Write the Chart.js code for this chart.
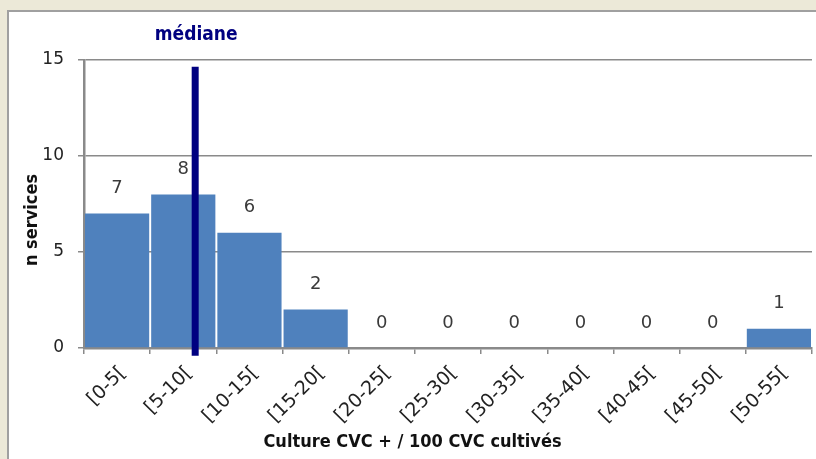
<!DOCTYPE html>
<html><head><meta charset="utf-8">
<script src="https://cdn.jsdelivr.net/npm/chart.js@4/dist/chart.umd.min.js"></script>
<style>
html,body{margin:0;padding:0;background:#ece9d8;width:816px;height:459px;overflow:hidden;}
#panel{position:absolute;left:7px;top:10px;width:807px;height:447px;background:#fff;border-left:2px solid #a0a0a0;border-top:2px solid #a0a0a0;}
canvas{display:block;}
</style></head><body>
<div id="panel"><canvas id="c" width="807" height="447"></canvas></div>
<script>
const categories = ['[0-5[','[5-10[','[10-15[','[15-20[','[20-25[','[25-30[','[30-35[','[35-40[','[40-45[','[45-50[','[50-55['];
const counts = [7,8,6,2,0,0,0,0,0,0,1];
const binWidth = 5;
const medianValue = 8.4;
const medianTop = 14.65;
const medianBottom = -0.4;
const yTicks = [0,5,10,15];
const xTitle = 'Culture CVC + / 100 CVC cultivés';
const yTitle = 'n services';

const FONT = "'DejaVu Sans Condensed','DejaVu Sans',sans-serif";
const FONT_W = "'DejaVu Sans',sans-serif";

const overlay = {
  id:'overlay',
  afterDatasetsDraw(chart){
    const ctx = chart.ctx;
    const meta = chart.getDatasetMeta(0);
    const xs = chart.scales.x, ys = chart.scales.y;
    const ca = chart.chartArea;
    ctx.save();
    ctx.font = "18px " + FONT_W;
    ctx.fillStyle = '#3a3a3a';
    ctx.textAlign = 'center';
    ctx.textBaseline = 'middle';
    meta.data.forEach((bar,i)=>{
      ctx.fillText(String(counts[i]), bar.x, bar.y - 25);
    });
    // median line (value mapped onto the category index scale)
    const px = xs.getPixelForValue(medianValue / binWidth - 0.5);
    ctx.strokeStyle = '#000080';
    ctx.lineWidth = 7;
    ctx.beginPath();
    ctx.moveTo(px, ys.getPixelForValue(medianTop));
    ctx.lineTo(px, ys.getPixelForValue(medianBottom));
    ctx.stroke();
    ctx.font = "bold 19px " + FONT;
    ctx.fillStyle = '#000080';
    ctx.fillText('médiane', px + 1, ca.top - 25);
    // axis titles
    ctx.fillStyle = '#111';
    ctx.font = "bold 18px " + FONT;
    ctx.fillText(xTitle, chart.width / 2, chart.height - 17);
    ctx.translate(23, (ca.top + ca.bottom) / 2 + 16);
    ctx.rotate(-Math.PI / 2);
    ctx.fillText(yTitle, 0, 0);
    ctx.restore();
  }
};

new Chart(document.getElementById('c'), {
  type:'bar',
  data:{
    labels:categories,
    datasets:[
      {data:counts, backgroundColor:'#4f81bd', categoryPercentage:1, barPercentage:0.97}
    ]
  },
  options:{
    responsive:false,
    animation:false,
    events:[],
    layout:{padding:{top:48,right:4,left:0,bottom:0}},
    plugins:{legend:{display:false},tooltip:{enabled:false}},
    scales:{
      x:{
        afterFit(s){ s.height = 111; },
        grid:{offset:true, drawOnChartArea:false, drawTicks:true, tickLength:6, color:'#8a8a8a', lineWidth:1.5},
        border:{color:'#8a8a8a', width:2.5},
        ticks:{minRotation:45, maxRotation:45, color:'#222', font:{size:19, family:FONT_W}, padding:8, labelOffset:6},
        title:{display:false}
      },
      y:{
        min:0, max:15,
        afterFit(s){ s.width = 75; },
        afterBuildTicks(s){ s.ticks = yTicks.map(v=>({value:v})); },
        grid:{color:'#8a8a8a', lineWidth:1.5, tickLength:6},
        border:{color:'#8a8a8a', width:2.5},
        ticks:{color:'#222', font:{size:17, family:FONT_W}, padding:14},
        title:{display:false}
      }
    }
  },
  plugins:[overlay]
});
</script>
</body></html>
